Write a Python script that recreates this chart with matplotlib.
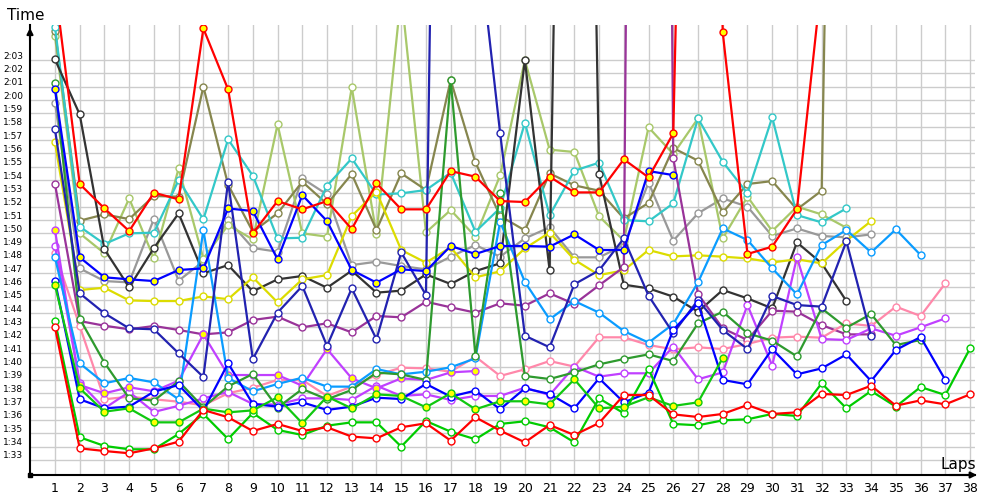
import numpy as np
import matplotlib
matplotlib.use("Agg")
import matplotlib.pyplot as plt
from matplotlib.transforms import ScaledTranslation

# lap times in seconds (1:33 -> 93); values above ~125.6 run off the top
laps = np.arange(1, 39)

red_leader = [102.95, 93.87, 93.67, 93.5, 93.87, 94.37, 96.75, 96.2, 95.17, 95.7, 95.17, 95.45, 94.75,
              94.62, 95.45, 95.75, 94.45, 96.2, 95.2, 94.32, 95.62, 94.87, 95.77, 97.87, 97.87, 96.42,
              96.22, 96.45, 97.12, 96.45, 96.57, 97.95, 97.87, 98.57, 97.07, 97.47, 97.17, 97.92]
green_w = [103.42, 94.7, 94.05, 93.8, 93.8, 94.95, 96.45, 94.57, 96.52, 95.25, 94.87, 95.57, 95.82,
           95.82, 94.0, 95.92, 95.12, 94.55, 95.7, 95.9, 95.45, 94.32, 97.62, 96.5, 99.82, 95.7, 95.6,
           95.97, 96.05, 96.45, 96.3, 98.75, 96.87, 98.17, 97.0, 98.47, 97.87, 101.37]
green_y = [106.12, 98.37, 96.62, 96.87, 95.82, 95.82, 96.85, 96.57, 96.72, 97.7, 95.75, 97.75, 96.87,
           97.92, 97.8, 96.95, 98.0, 96.8, 97.4, 97.4, 97.17, 99.05, 96.87, 97.0, 97.7, 97.05, 97.32,
           100.65]
dark_green = [121.25, 103.6, 100.3, 97.62, 97.45, 98.9, 96.95, 98.52, 99.45, 96.92, 98.32, 97.55, 98.25,
              99.55, 99.42, 99.0, 121.5, 100.8, 113.03, 99.3, 99.07, 99.57, 100.17, 100.57, 100.92,
              100.42, 103.25, 104.12, 102.5, 101.95, 100.77, 104.37, 102.92, 103.95, 101.62, 102.0]
red_y = [128.6, 113.7, 111.87, 110.17, 113.05, 112.55, 125.37, 120.8, 110.0, 112.42, 111.8, 112.42,
         110.32, 113.75, 111.8, 111.8, 114.67, 114.25, 112.42, 112.35, 114.25, 113.07, 113.07, 115.55,
         114.2, 117.5, 200.0, 125.07, 108.45, 109.0, 111.8, 129.0]
blue_y = [120.8, 108.2, 106.7, 106.55, 106.42, 107.25, 107.37, 111.87, 111.67, 108.05, 112.87, 110.92,
          107.25, 106.3, 107.3, 107.17, 109.05, 108.45, 109.05, 109.05, 109.0, 109.92, 108.75, 108.75,
          114.67, 114.37]
blue_w = [106.42, 97.55, 96.87, 97.0, 98.12, 98.62, 96.7, 100.25, 97.2, 97.0, 97.32, 96.75, 97.0, 97.67,
          97.57, 98.7, 97.75, 98.2, 96.8, 98.37, 97.95, 96.87, 99.12, 97.32, 98.05, 102.75, 104.75, 99.0,
          98.67, 101.32, 99.42, 99.87, 100.92, 98.92, 101.25, 102.22, 99.0]
navy = [117.8, 105.5, 104.0, 102.87, 102.8, 101.0, 99.22, 113.87, 100.57, 104.05, 106.05, 101.55, 105.87,
        102.05, 108.57, 105.37, 232.0, 134.0, 117.5, 102.32, 101.45, 106.18, 107.22, 109.62, 105.32,
        102.5, 105.0, 102.75, 101.32, 105.3, 104.62, 104.5, 109.4, 102.32]
light_blue = [108.2, 100.25, 98.75, 99.15, 98.82, 97.55, 110.25, 99.15, 98.15, 98.7, 99.17, 98.5, 98.5,
              99.82, 99.42, 99.62, 99.95, 100.62, 110.87, 106.35, 103.55, 104.92, 104.05, 102.67, 101.8,
              103.2, 106.32, 110.37, 109.5, 107.37, 105.42, 109.12, 110.25, 108.57, 110.3, 108.37]
cyan = [125.5, 110.5, 109.2, 110.0, 110.05, 114.0, 111.05, 117.05, 114.32, 109.62, 109.67, 113.57,
        115.62, 112.92, 113.0, 113.25, 114.55, 110.12, 111.9, 118.3, 111.35, 114.7, 115.3, 111.0, 110.9,
        112.25, 118.62, 115.37, 113.0, 118.7, 111.37, 110.82, 111.87]
yellow = [116.82, 105.75, 105.92, 104.97, 104.92, 104.92, 105.27, 105.06, 106.7, 104.82, 106.55, 106.87,
          111.3, 113.12, 108.75, 107.8, 108.95, 106.7, 107.15, 108.87, 110.06, 108.02, 106.87, 107.22,
          108.75, 108.27, 108.35, 108.25, 108.12, 107.82, 108.05, 107.75, 109.45, 110.92]
black = [123.05, 118.92, 108.8, 105.95, 108.9, 111.5, 107.0, 107.62, 105.65, 106.55, 106.8, 105.92,
         107.2, 105.55, 105.7, 106.92, 106.2, 107.17, 107.75, 123.0, 107.22, 220.0, 114.43, 106.15,
         105.87, 105.25, 104.12, 105.75, 105.12, 104.37, 109.32, 107.75, 104.92]
gray = [119.8, 107.37, 106.42, 106.32, 111.08, 106.45, 107.9, 111.0, 108.9, 108.62, 114.12, 112.92,
        107.62, 107.87, 107.55, 107.3, 108.25, 109.12, 108.25, 109.62, 110.45, 108.2, 108.2, 109.1,
        113.8, 109.45, 111.5, 112.62, 112.0, 109.8, 110.37, 109.8, 109.7, 109.92]
olive = [125.2, 110.95, 111.42, 111.07, 112.8, 112.75, 121.0, 113.65, 110.12, 111.5, 113.87, 112.2,
         114.45, 110.25, 114.5, 113.25, 121.5, 115.32, 111.3, 110.22, 114.5, 113.6, 113.2, 111.12,
         112.28, 116.4, 115.45, 111.57, 113.7, 113.92, 111.8, 113.2, 220.0]
pale_green = [124.8, 110.0, 108.5, 112.62, 108.12, 114.87, 108.1, 110.62, 109.55, 118.17, 110.0, 109.75,
              120.95, 109.92, 128.0, 110.07, 111.75, 109.75, 114.35, 123.0, 116.28, 116.1, 111.28,
              109.45, 117.95, 115.95, 118.62, 109.62, 112.75, 110.17, 112.0, 111.42, 110.42]
purple = [113.7, 103.42, 103.07, 102.8, 103.05, 102.75, 102.42, 102.57, 103.5, 103.75, 102.95, 103.25,
          102.57, 103.8, 103.7, 104.87, 104.45, 104.05, 104.75, 104.57, 105.5, 104.7, 106.1, 107.47,
          330.0, 115.62, 105.45, 102.87, 102.0, 104.2, 104.12, 103.12, 102.42, 102.42]
violet_y = [110.25, 98.62, 98.0, 98.45, 98.15, 98.95, 102.42, 99.37, 99.37, 99.37, 98.57, 101.32, 99.12,
            98.37, 99.12, 99.0, 99.57, 99.67]
violet_w = [109.05, 98.8, 96.87, 98.1, 96.6, 97.06, 97.62, 98.1, 97.2, 97.15, 97.62, 97.62, 97.5, 98.57,
            97.8, 97.92, 97.5, 97.8, 97.8, 98.42, 97.87, 100.0, 99.25, 99.5, 99.5, 101.5, 99.05, 99.57,
            104.62, 100.07, 108.2, 102.07, 102.0, 102.87, 102.32, 102.95, 103.62]
pink = [108.5, 103.05, 97.55, 97.75, 97.55, 97.37, 97.1, 98.0, 98.42, 99.0, 99.0, 97.8, 98.5, 99.37,
        99.92, 99.87, 99.62, 100.75, 99.3, 99.8, 100.42, 100.0, 102.2, 102.2, 101.62, 101.3, 101.45,
        101.32, 101.7, 102.17, 102.25, 102.17, 103.25, 103.05, 104.5, 103.8, 106.25]

tick_secs = list(range(93, 124))
tick_labels = [f"{s // 60}:{s % 60:02d}" for s in tick_secs]

fig = plt.figure(figsize=(10, 5), dpi=100)
ax = fig.add_axes([0.03, 0.05, 0.945, 0.90])

series = [
    (gray, "#999999", "white"),
    (pale_green, "#a8c86a", "white"),
    (olive, "#86864e", "white"),
    (cyan, "#33c8c8", "white"),
    (black, "#333333", "white"),
    (yellow, "#dcdc00", "white"),
    (purple, "#993399", "white"),
    (pink, "#ff88aa", "white"),
    (violet_w, "#c040ff", "white"),
    (violet_y, "#c040ff", "#ffff00"),
    (light_blue, "#0a9cff", "white"),
    (dark_green, "#2e9a2e", "white"),
    (navy, "#2222b0", "white"),
    (blue_w, "#0000ff", "white"),
    (blue_y, "#0000ff", "#ffff00"),
    (green_w, "#00cc00", "white"),
    (green_y, "#10c810", "#ffff00"),
    (red_leader, "#ff0000", "white"),
    (red_y, "#ff0000", "#ffff00"),
]
for vals, col, face in series:
    ax.plot(laps[:len(vals)], vals, color=col, lw=1.6, marker="o", ms=5,
            mfc=face, mec=col, mew=1.0, zorder=3)

ax.set_xlim(-0.01, 38.2)
ax.set_ylim(91.87, 125.63)

ax.set_xticks(laps)
ax.set_xticklabels([str(l) for l in laps], fontsize=9)
ax.set_yticks(tick_secs)
ax.set_yticklabels(tick_labels, fontsize=6.5)
ax.tick_params(axis="both", length=0)
ax.tick_params(axis="y", pad=5)
ax.tick_params(axis="x", pad=5)
shift = ScaledTranslation(0, 5 / 100, fig.dpi_scale_trans)
for lab in ax.get_yticklabels():
    lab.set_transform(lab.get_transform() + shift)

ax.grid(True, color="#cccccc", lw=1)
ax.set_axisbelow(True)
for side in ["top", "right"]:
    ax.spines[side].set_visible(False)
for side in ["left", "bottom"]:
    ax.spines[side].set_color("black")
    ax.spines[side].set_linewidth(1.5)

# arrow heads on the axes
ax.annotate("", xy=(0, 1.0), xytext=(0, 0.96), xycoords="axes fraction",
            arrowprops=dict(arrowstyle="-|>", color="black", lw=1.5, mutation_scale=9), zorder=5)
ax.annotate("", xy=(1.005, 0), xytext=(0.97, 0), xycoords="axes fraction",
            arrowprops=dict(arrowstyle="-|>", color="black", lw=1.5, mutation_scale=9), zorder=5)
ax.plot([0], [0], marker="s", ms=3, color="black", transform=ax.transAxes, clip_on=False, zorder=6)

fig.text(0.007, 0.97, "Time", fontsize=11, ha="left", va="center")
fig.text(0.976, 0.07, "Laps", fontsize=11, ha="right", va="center")

fig.savefig("out.png", dpi=100)
